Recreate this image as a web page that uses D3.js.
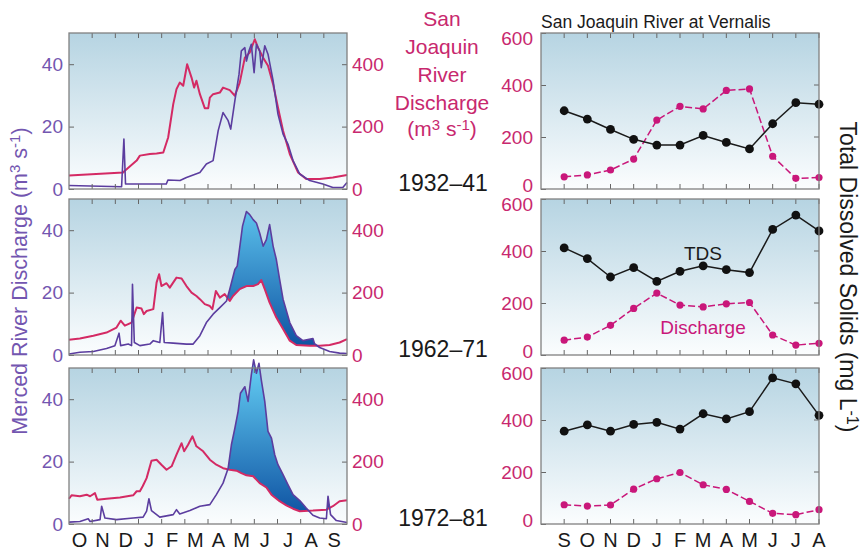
<!DOCTYPE html>
<html>
<head>
<meta charset="utf-8">
<script src="https://cdnjs.cloudflare.com/ajax/libs/d3/7.8.5/d3.min.js"></script>
<style>
  body { margin: 0; background: #fff; }
  text { font-family: "Liberation Sans", Arial, sans-serif; }
</style>
</head>
<body>
<div id="chart"></div>
<script>
// water year months (left) and TDS months (right)
var months = ["O","N","D","J","F","M","A","M","J","J","A","S"];
var tdsMonths = ["S","O","N","D","J","F","M","A","M","J","J","A"];
var periods = ["1932–41","1962–71","1972–81"];

// daily discharge traces, [months since 1 Oct, value]
// Merced in m3/s, San Joaquin in m3/s
var merced3241 = [[0,1.1],[2.27,0.7],[2.37,16],[2.44,1.6],[4.2,1.6],[4.27,2.9],[4.79,2.7],[5.07,3.7],[5.65,5.3],[5.93,8.0],[6.22,9.1],[6.44,18.7],[6.65,24.5],[6.87,21.9],[6.98,19.2],[7.16,28.3],[7.34,36.8],[7.44,44.3],[7.59,45.3],[7.66,41.0],[7.77,44.3],[7.87,46.4],[7.99,37.3],[8.09,46.4],[8.23,44.3],[8.30,38.9],[8.45,45.9],[8.59,43.2],[8.81,34.7],[9.02,24.0],[9.24,17.6],[9.45,14.4],[9.67,9.1],[9.96,4.8],[10.39,2.7],[10.96,1.6],[11.39,0.5],[11.82,0.5],[12,2.1]];
var sanJoaquin3241 = [[0,43],[2.34,53],[2.40,58],[2.92,91],[3.06,107],[3.49,112],[3.78,114],[4.07,117],[4.28,165],[4.50,272],[4.64,320],[4.78,341],[4.93,331],[5.10,400],[5.29,357],[5.40,325],[5.50,347],[5.65,304],[5.86,259],[6.01,259],[6.08,293],[6.22,304],[6.51,309],[6.65,325],[6.94,317],[7.16,299],[7.37,341],[7.59,421],[7.80,437],[8.02,480],[8.16,453],[8.38,421],[8.59,395],[8.81,336],[9.02,261],[9.24,187],[9.53,112],[9.89,53],[10.24,32],[10.82,32],[11.39,37],[12,45]];

var merced6271 = [[0,0.3],[0.47,0.9],[1.05,1.1],[1.62,2.1],[1.98,3.0],[2.16,7.0],[2.23,3.0],[2.56,3.5],[2.70,3.0],[2.74,22.7],[2.82,4.0],[3.06,3.0],[3.49,3.5],[3.64,4.6],[3.92,4.0],[4.04,13.6],[4.11,4.0],[4.50,3.8],[5.07,3.5],[5.36,3.5],[5.65,6.2],[5.93,10.4],[6.22,13.1],[6.51,15.2],[6.80,17.3],[6.94,21.1],[7.16,27.4],[7.26,28.5],[7.34,32.8],[7.49,41.3],[7.66,46.0],[7.80,45.0],[7.95,43.4],[8.09,42.3],[8.23,39.1],[8.38,34.9],[8.52,37.0],[8.66,41.8],[8.81,34.9],[8.95,30.6],[9.09,24.3],[9.24,17.9],[9.53,10.4],[9.81,6.2],[10.10,4.6],[10.53,5.3],[10.60,3.6],[10.82,2.4],[11.25,1.1],[11.68,0.6],[12,0.5]];
var sanJoaquin6271 = [[0,49],[0.47,53],[1.05,62],[1.62,72],[2.05,88],[2.23,110],[2.41,94],[2.70,104],[2.92,152],[3.13,149],[3.23,131],[3.35,141],[3.64,147],[3.78,232],[3.89,259],[3.99,221],[4.21,230],[4.35,216],[4.64,248],[4.86,245],[5.07,221],[5.29,200],[5.50,189],[5.65,179],[5.86,163],[6.08,157],[6.19,147],[6.34,205],[6.51,184],[6.72,195],[6.94,173],[7.08,189],[7.37,211],[7.66,221],[7.95,221],[8.16,227],[8.30,240],[8.45,211],[8.66,168],[8.95,120],[9.24,83],[9.53,46],[9.81,32],[10.39,30],[10.82,30],[11.25,32],[11.68,40],[12,51]];

var merced7281 = [[0,0.6],[0.47,0.8],[0.83,1.7],[0.91,0.8],[1.34,1.4],[1.41,5.7],[1.55,1.9],[2.05,1.4],[2.77,1.9],[3.20,2.2],[3.35,4.1],[3.45,8.1],[3.56,4.3],[3.92,2.2],[4.50,3.0],[4.64,4.6],[4.78,3.2],[5.22,4.3],[5.65,5.7],[6.08,6.2],[6.36,9.4],[6.65,13.1],[6.87,17.9],[7.01,25.4],[7.16,30.7],[7.30,36.1],[7.40,41.9],[7.59,44.0],[7.73,39.3],[7.87,47.8],[7.97,52.6],[8.09,48.3],[8.20,51.5],[8.30,46.2],[8.45,39.3],[8.59,29.7],[8.74,27.5],[8.88,22.2],[9.02,19.0],[9.24,15.8],[9.45,12.6],[9.67,9.4],[9.96,7.5],[10.24,5.1],[10.53,2.8],[10.82,1.9],[11.11,1.7],[11.18,8.9],[11.29,3.0],[11.54,1.1],[12,0.5]];
var sanJoaquin7281 = [[0,81],[0.11,92],[0.47,89],[0.76,94],[0.91,89],[1.12,99],[1.22,78],[1.62,81],[2.20,85],[2.77,92],[2.92,105],[3.06,105],[3.18,121],[3.35,147],[3.56,203],[3.78,206],[3.99,190],[4.21,174],[4.43,185],[4.64,222],[4.86,259],[4.97,233],[5.14,254],[5.33,281],[5.50,249],[5.79,233],[6.08,206],[6.36,190],[6.65,179],[6.94,174],[7.23,171],[7.44,163],[7.66,156],[7.95,153],[8.23,131],[8.52,117],[8.74,94],[9.09,73],[9.38,60],[9.67,49],[9.96,41],[10.53,43],[11.11,46],[11.39,57],[11.68,73],[12,76]];

// monthly means at Vernalis, S..A
var tds3241 = [301,269,229,191,169,169,206,179,154,251,332,326];
var discharge3241 = [47,54,73,115,265,318,308,379,385,126,41,44];
var tds6271 = [412,371,300,336,283,322,343,328,317,483,538,477];
var discharge6271 = [57,69,114,179,238,192,185,197,202,77,38,45];
var tds7281 = [357,381,357,383,391,365,424,404,432,562,539,418];
var discharge7281 = [74,69,73,134,174,198,151,133,87,41,36,55];

var width = 865, height = 552;
var tops = [33, 199, 368], panelH = 156;
var leftX = [69, 347], rightX = [541, 819];

var purple = "#5b3d9f", purpleText = "#7356b0",
    magenta = "#d42a64", magentaText = "#c8286e",
    qColor = "#c9177a";

var daily = [
  {merced: merced3241, sj: sanJoaquin3241, fill: false},
  {merced: merced6271, sj: sanJoaquin6271, fill: true},
  {merced: merced7281, sj: sanJoaquin7281, fill: true}
];
var monthly = [
  {tds: tds3241, q: discharge3241},
  {tds: tds6271, q: discharge6271},
  {tds: tds7281, q: discharge7281}
];

var svg = d3.select("#chart").append("svg")
    .attr("width", width)
    .attr("height", height);

var defs = svg.append("defs");

var bg = defs.append("linearGradient").attr("id", "bg")
    .attr("x1", 0).attr("y1", 0).attr("x2", 0).attr("y2", 1);
bg.append("stop").attr("offset", "0%").attr("stop-color", "#b6d4e2");
bg.append("stop").attr("offset", "100%").attr("stop-color", "#fbfdfe");

var x = d3.scaleLinear().domain([0, 12]).range(leftX);
var xr = d3.scaleLinear().domain([-1, 11]).range(rightX);

tops.forEach(function(top, i) {
  var bottom = top + panelH;
  var yM = d3.scaleLinear().domain([0, 50]).range([bottom, top]);
  var yS = d3.scaleLinear().domain([0, 500]).range([bottom, top]);
  var yT = d3.scaleLinear().domain([0, 600]).range([bottom, top]);

  // ---- left panel: daily discharge ----
  var g = svg.append("g");
  g.append("rect")
    .attr("x", leftX[0]).attr("y", top)
    .attr("width", leftX[1] - leftX[0]).attr("height", panelH)
    .attr("fill", "url(#bg)");

  var d = daily[i];
  if (d.fill) {
    var grad = defs.append("linearGradient").attr("id", "flow" + i)
        .attr("gradientUnits", "userSpaceOnUse")
        .attr("x1", 0).attr("y1", top).attr("x2", 0).attr("y2", bottom);
    grad.append("stop").attr("offset", "0%").attr("stop-color", "#62cbf2");
    grad.append("stop").attr("offset", "100%").attr("stop-color", "#0a4c9e");

    // clip to the region above the San Joaquin trace
    defs.append("clipPath").attr("id", "above" + i)
      .append("path")
      .attr("d", d3.area()
        .x(function(p) { return x(p[0]); })
        .y0(top - 30)
        .y1(function(p) { return yS(p[1]); })(d.sj));

    g.append("path")
      .attr("clip-path", "url(#above" + i + ")")
      .attr("fill", "url(#flow" + i + ")")
      .attr("d", d3.area()
        .x(function(p) { return x(p[0]); })
        .y0(bottom)
        .y1(function(p) { return yM(p[1]); })(d.merced));
  }

  g.append("path")
    .attr("fill", "none")
    .attr("stroke", magenta)
    .attr("stroke-width", 2)
    .attr("stroke-linejoin", "round")
    .attr("d", d3.line()
      .x(function(p) { return x(p[0]); })
      .y(function(p) { return yS(p[1]); })(d.sj));

  g.append("path")
    .attr("fill", "none")
    .attr("stroke", purple)
    .attr("stroke-width", 1.6)
    .attr("stroke-linejoin", "round")
    .attr("d", d3.line()
      .x(function(p) { return x(p[0]); })
      .y(function(p) { return yM(p[1]); })(d.merced));

  // ticks inward
  var bounds = d3.range(1, 12);
  g.selectAll(".tt").data(bounds).enter().append("line")
    .attr("x1", function(m) { return x(m); }).attr("x2", function(m) { return x(m); })
    .attr("y1", top).attr("y2", top + 5)
    .attr("stroke", "#666");
  g.selectAll(".tb").data(bounds).enter().append("line")
    .attr("x1", function(m) { return x(m); }).attr("x2", function(m) { return x(m); })
    .attr("y1", bottom).attr("y2", bottom - 5)
    .attr("stroke", "#666");

  var axL = g.append("g").attr("transform", "translate(" + leftX[0] + ",0)")
    .call(d3.axisLeft(yM).tickValues([0, 20, 40]).tickSizeInner(-5).tickSizeOuter(0).tickPadding(6));
  axL.select(".domain").remove();
  axL.selectAll("line").attr("stroke", "#666");
  axL.selectAll("text").attr("fill", purpleText).style("font-size", "19px");

  var axR = g.append("g").attr("transform", "translate(" + leftX[1] + ",0)")
    .call(d3.axisRight(yS).tickValues([0, 200, 400]).tickSizeInner(-5).tickSizeOuter(0).tickPadding(5));
  axR.select(".domain").remove();
  axR.selectAll("line").attr("stroke", "#666");
  axR.selectAll("text").attr("fill", magentaText).style("font-size", "19px");

  g.append("rect")
    .attr("x", leftX[0]).attr("y", top)
    .attr("width", leftX[1] - leftX[0]).attr("height", panelH)
    .attr("fill", "none").attr("stroke", "#808080").attr("stroke-width", 1.3);

  // ---- right panel: monthly TDS ----
  var r = svg.append("g");
  r.append("rect")
    .attr("x", rightX[0]).attr("y", top)
    .attr("width", rightX[1] - rightX[0]).attr("height", panelH)
    .attr("fill", "url(#bg)");

  var idx = d3.range(12);
  r.selectAll(".rt").data(idx).enter().append("line")
    .attr("x1", function(k) { return xr(k); }).attr("x2", function(k) { return xr(k); })
    .attr("y1", top).attr("y2", top + 5).attr("stroke", "#666");
  r.selectAll(".rb").data(idx).enter().append("line")
    .attr("x1", function(k) { return xr(k); }).attr("x2", function(k) { return xr(k); })
    .attr("y1", bottom).attr("y2", bottom - 5).attr("stroke", "#666");

  var axT = r.append("g").attr("transform", "translate(" + rightX[0] + ",0)")
    .call(d3.axisLeft(yT).tickValues([0, 200, 400, 600]).tickSizeInner(-5).tickSizeOuter(0).tickPadding(8));
  axT.select(".domain").remove();
  axT.selectAll("line").attr("stroke", "#666");
  axT.selectAll("text").attr("fill", magentaText).style("font-size", "19px")
    .attr("y", function(v) { return v === 600 ? 5 : (v === 0 ? -4 : 0); });
  r.selectAll(".rr").data([200, 400]).enter().append("line")
    .attr("x1", rightX[1]).attr("x2", rightX[1] - 5)
    .attr("y1", function(v) { return yT(v); }).attr("y2", function(v) { return yT(v); })
    .attr("stroke", "#666");

  var m = monthly[i];
  r.append("path")
    .attr("fill", "none").attr("stroke", qColor).attr("stroke-width", 1.5)
    .attr("stroke-dasharray", "7,3")
    .attr("d", d3.line().x(function(v, k) { return xr(k); }).y(function(v) { return yT(v); })(m.q));
  r.selectAll(".qd").data(m.q).enter().append("circle")
    .attr("cx", function(v, k) { return xr(k); })
    .attr("cy", function(v) { return yT(v); })
    .attr("r", 3.6).attr("fill", qColor);

  r.append("path")
    .attr("fill", "none").attr("stroke", "#1a1a1a").attr("stroke-width", 1.5)
    .attr("d", d3.line().x(function(v, k) { return xr(k); }).y(function(v) { return yT(v); })(m.tds));
  r.selectAll(".td").data(m.tds).enter().append("circle")
    .attr("cx", function(v, k) { return xr(k); })
    .attr("cy", function(v) { return yT(v); })
    .attr("r", 4.4).attr("fill", "#111");

  r.append("rect")
    .attr("x", rightX[0]).attr("y", top)
    .attr("width", rightX[1] - rightX[0]).attr("height", panelH)
    .attr("fill", "none").attr("stroke", "#808080").attr("stroke-width", 1.3);

  // period label
  svg.append("text")
    .attr("x", 443).attr("y", bottom + 2)
    .attr("text-anchor", "middle")
    .attr("fill", "#1a1a1a")
    .style("font-size", "23px")
    .text(periods[i]);
});

// month labels
svg.selectAll(".ml").data(months).enter().append("text")
  .attr("x", function(mo, k) { return x(k + 0.45); })
  .attr("y", 547)
  .attr("text-anchor", "middle")
  .attr("fill", "#1a1a1a")
  .style("font-size", "20px")
  .text(function(mo) { return mo; });
svg.selectAll(".mr").data(tdsMonths).enter().append("text")
  .attr("x", function(mo, k) { return xr(k); })
  .attr("y", 547)
  .attr("text-anchor", "middle")
  .attr("fill", "#1a1a1a")
  .style("font-size", "20px")
  .text(function(mo) { return mo; });

// middle San Joaquin label
var sjLines = ["San", "Joaquin", "River", "Discharge"];
svg.selectAll(".sj").data(sjLines).enter().append("text")
  .attr("x", 442)
  .attr("y", function(s, k) { return 26 + k * 28; })
  .attr("text-anchor", "middle")
  .attr("fill", magentaText)
  .style("font-size", "21px")
  .text(function(s) { return s; });
var unit = svg.append("text")
  .attr("x", 442).attr("y", 136)
  .attr("text-anchor", "middle")
  .attr("fill", magentaText)
  .style("font-size", "21px");
unit.append("tspan").text("(m");
unit.append("tspan").attr("dy", -6).style("font-size", "15px").text("3");
unit.append("tspan").attr("dy", 6).text(" s");
unit.append("tspan").attr("dy", -6).style("font-size", "15px").text("-1");
unit.append("tspan").attr("dy", 6).text(")");

// title right
svg.append("text")
  .attr("x", 541).attr("y", 28)
  .attr("fill", "#1a1a1a")
  .style("font-size", "17.5px")
  .text("San Joaquin River at Vernalis");

// series labels in 1962-71 panel
svg.append("text").attr("x", 703).attr("y", 260)
  .attr("text-anchor", "middle").attr("fill", "#1a1a1a")
  .style("font-size", "19px").text("TDS");
svg.append("text").attr("x", 703).attr("y", 334)
  .attr("text-anchor", "middle").attr("fill", qColor)
  .style("font-size", "19px").text("Discharge");

// axis titles
var lt = svg.append("text")
  .attr("transform", "translate(27,281) rotate(-90)")
  .attr("text-anchor", "middle")
  .attr("fill", purpleText)
  .style("font-size", "21.5px");
lt.append("tspan").text("Merced River Discharge (m");
lt.append("tspan").attr("dy", -7).style("font-size", "15px").text("3");
lt.append("tspan").attr("dy", 7).text(" s");
lt.append("tspan").attr("dy", -7).style("font-size", "15px").text("-1");
lt.append("tspan").attr("dy", 7).text(")");

var rt = svg.append("text")
  .attr("transform", "translate(840,277) rotate(90)")
  .attr("text-anchor", "middle")
  .attr("fill", "#1a1a1a")
  .style("font-size", "23px");
rt.append("tspan").text("Total Dissolved Solids (mg L");
rt.append("tspan").attr("dy", -7).style("font-size", "16px").text("-1");
rt.append("tspan").attr("dy", 7).text(")");
</script>
</body>
</html>
